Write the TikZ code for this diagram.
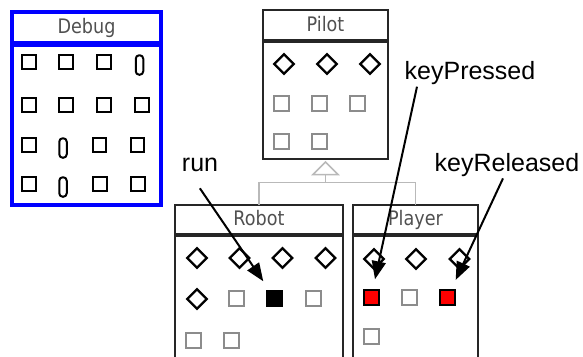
\documentclass[tikz,border=0pt]{standalone}
\usepackage{fontspec}
\setmainfont{Liberation Sans}
\newfontfamily\titlefont[FakeStretch=0.88]{DejaVu Sans}
\usetikzlibrary{positioning,arrows.meta,shapes.geometric}

\definecolor{umlgray}{RGB}{140,140,140}
\definecolor{titlegray}{RGB}{80,80,80}
\definecolor{inhgray}{RGB}{185,185,185}
\definecolor{debugblue}{RGB}{0,0,255}

\tikzset{
  ctitle/.style={draw=black!85, line width=2pt, outer sep=0pt, inner sep=0pt, anchor=north west,
    text height=12pt, text depth=0pt, font=\titlefont\fontsize{20}{20}\selectfont, text=titlegray},
  cbody/.style={draw=black!85, line width=2pt, outer sep=0pt, anchor=north west},
  dbg/.style={draw=debugblue, line width=4pt},
  attr/.style={diamond, draw, line width=2.4pt, minimum size=20.5pt, inner sep=0pt},
  meth/.style={draw=umlgray, line width=2pt, fill=white, minimum size=15pt, inner sep=0pt},
  hit/.style={meth, draw=black, fill=#1},
  dmeth/.style={draw, line width=2pt, minimum size=13.5pt, inner sep=0pt},
  dpill/.style={draw, line width=2pt, rounded corners=3.5pt, minimum width=7.5pt, minimum height=19.5pt, inner sep=0pt},
  inh/.style={draw=inhgray, line width=1.5pt},
  event/.style={font=\fontsize{25}{25}\selectfont, inner sep=2pt},
  point/.style={-{Triangle[length=18pt,width=14pt]}, line width=2pt, shorten >=10pt},
}

\begin{document}
\begin{tikzpicture}[x=1pt,y=-1pt,on grid,node distance=38pt]
	\useasboundingbox (0,0) rectangle (583,356);
	% classes
	\node[ctitle,dbg,minimum width=149pt,minimum height=30.7pt] (debug) at (12,12) {Debug};
	\node[cbody,dbg,minimum width=149pt,minimum height=160.3pt] (debugbody) at ([yshift=-2pt]debug.south west) {};
	\node[ctitle,minimum width=125pt,minimum height=29.7pt] (pilot) at (263,10.3) {Pilot};
	\node[cbody,minimum width=125pt,minimum height=117pt] (pilotbody) at ([yshift=-2pt]pilot.south west) {};
	\node[ctitle,minimum width=168pt,minimum height=29pt] (robot) at (175,205) {Robot};
	\node[cbody,minimum width=168pt,minimum height=125pt] (robotbody) at ([yshift=-2pt]robot.south west) {};
	\node[ctitle,minimum width=125pt,minimum height=29pt] (player) at (353,205) {Player};
	\node[cbody,minimum width=125pt,minimum height=125pt] (playerbody) at ([yshift=-2pt]player.south west) {};
	% inheritance
	\coordinate (gen) at ([yshift=-3pt]pilotbody.south);
	\coordinate (fork) at ([yshift=-12.5pt]gen);
	\draw[inh] (gen) -- ++(-12.5,12.5) -- ++(25,0) -- cycle;
	\draw[inh] (fork) -- ++(0,8) -| (robot);
	\draw[inh] (fork) ++(0,8) -| (player);
	% Debug members
	\node[dmeth] (d11) at (29,62) {};
	\node[dmeth,right=37pt of d11] (d12) {};
	\node[dmeth,right=38pt of d12] (d13) {};
	\node[dpill] (d14) at (139.5,65) {};
	\node[dmeth] (d21) at (29,105) {};
	\node[dmeth,right=37pt of d21] (d22) {};
	\node[dmeth,right=38pt of d22] (d23) {};
	\node[dmeth,right=38pt of d23] (d24) {};
	\node[dmeth] (d31) at (29,145) {};
	\node[dpill] (d32) at (63,148) {};
	\node[dmeth] (d33) at (99.5,145) {};
	\node[dmeth,right=38pt of d33] (d34) {};
	\node[dmeth] (d41) at (29,184) {};
	\node[dpill] (d42) at (63,187) {};
	\node[dmeth] (d43) at (100,184) {};
	\node[dmeth,right=38pt of d43] (d44) {};
	% Pilot members
	\node[attr] (p11) at (284,64) {};
	\node[attr,right=43pt of p11] (p12) {};
	\node[attr,right=43pt of p12] (p13) {};
	\node[meth] (p21) at (281,103.5) {};
	\node[meth,right of=p21] (p22) {};
	\node[meth,right=38.5pt of p22] (p23) {};
	\node[meth] (p31) at (281,141) {};
	\node[meth,right of=p31] (p32) {};
	% Robot members
	\node[attr] (r11) at (197,258) {};
	\node[attr,right=42.5pt of r11] (r12) {};
	\node[attr,right=43pt of r12] (r13) {};
	\node[attr,right=43pt of r13] (r14) {};
	\node[attr] (r21) at (197,299) {};
	\node[meth] (r22) at (236,298) {};
	\node[hit=black,right=38.7pt of r22] (r23) {};
	\node[meth,right=38.3pt of r23] (r24) {};
	\node[meth] (r31) at (193.5,340) {};
	\node[meth,right of=r31] (r32) {};
	% Player members
	\node[attr] (y11) at (374,259) {};
	\node[attr,right=42pt of y11] (y12) {};
	\node[attr,right=43.5pt of y12] (y13) {};
	\node[hit=red] (y21) at (371,297.5) {};
	\node[meth,right=38.5pt of y21] (y22) {};
	\node[hit=red,right of=y22] (y23) {};
	\node[meth] (y31) at (371,336) {};
	% events
	\node[event,anchor=base] (run) at (200,171) {run};
	\node[event,anchor=base] (keypressed) at (470,79.3) {keyPressed};
	\node[event,anchor=base] (keyreleased) at (507,171) {keyReleased};
	\draw[point,shorten <=18pt] ([xshift=10pt]run.south west) -- (r23);
	\draw[point] ([xshift=14.5pt]keypressed.south west) -- (y21);
	\draw[point] ([xshift=-4pt]keyreleased.south) -- (y23);
\end{tikzpicture}
\end{document}
